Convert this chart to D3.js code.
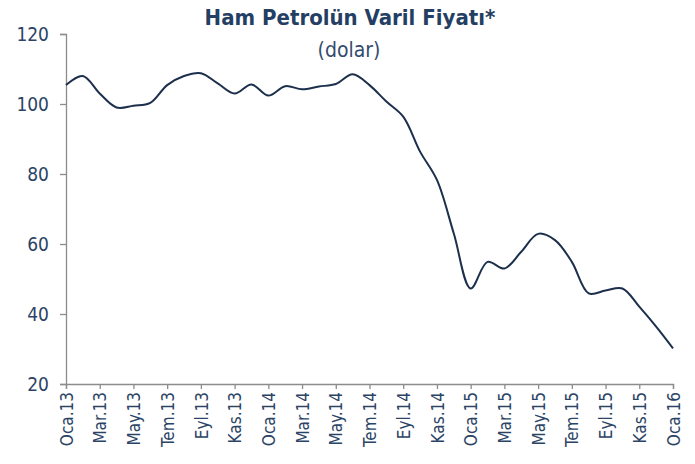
<!DOCTYPE html>
<html>
<head>
<meta charset="utf-8">
<script src="https://cdn.jsdelivr.net/npm/d3@7"></script>
<style>
  body { margin: 0; background: #fff; overflow: hidden; }
  text { font-family: "DejaVu Sans Condensed", "DejaVu Sans", sans-serif; }
</style>
</head>
<body>
<div id="chart"></div>
<script>
// Monthly crude oil price (USD/barrel), Jan 2013 - Jan 2016
const months = ["Oca", "Şub", "Mar", "Nis", "May", "Haz", "Tem", "Ağu", "Eyl", "Eki", "Kas", "Ara"];
const years = [13, 14, 15, 16];
const prices = [
    105.4, 108.0, 103.0, 99.0, 99.5, 100.3, 105.4, 108.0, 108.8, 105.9, 103.0, 105.6,
    102.4, 105.1, 104.2, 105.0, 105.7, 108.5, 105.4, 100.7, 96.4, 86.4, 78.3, 63.0,
    47.3, 54.9, 53.0, 57.8, 62.9, 61.1, 54.9, 45.9, 46.7, 47.3, 42.1, 36.4,
    30.2
];
const yTicks = [20, 40, 60, 80, 100, 120];

// build "Oca.13" style labels for each month
const labels = prices.map((p, i) => months[i % 12] + "." + years[Math.floor(i / 12)]);
const data = prices.map((p, i) => ({label: labels[i], value: p}));

const width = 695;
const height = 464;
const margin = {top: 34, right: 22, bottom: 80, left: 66};
const innerWidth = width - margin.left - margin.right;
const innerHeight = height - margin.top - margin.bottom;

const labelColor = "#2b4466";

const svg = d3.select("#chart")
    .append("svg")
    .attr("width", width)
    .attr("height", height)
    .style("display", "block");

const chart = svg.append("g")
    .attr("transform", `translate(${margin.left}, ${margin.top})`);

const xScale = d3.scalePoint()
    .domain(labels)
    .range([0, innerWidth]);

const yScale = d3.scaleLinear()
    .domain([20, 120])
    .range([innerHeight, 0]);

// Y axis
const yAxis = chart.append("g")
    .call(d3.axisLeft(yScale).tickValues(yTicks).tickSize(6).tickPadding(11));
yAxis.selectAll("path, line").attr("stroke", "#8c8c8c").attr("stroke-width", 1.3);
yAxis.selectAll("text")
    .style("font-size", "19px")
    .style("fill", labelColor);

// X axis, labels every second month
const xAxis = chart.append("g")
    .attr("transform", `translate(0, ${innerHeight})`)
    .call(d3.axisBottom(xScale)
        .tickValues(labels.filter((d, i) => i % 2 === 0))
        .tickSizeOuter(0)
        .tickSize(5));
xAxis.selectAll("path, line").attr("stroke", "#8c8c8c").attr("stroke-width", 1.3);
xAxis.selectAll("text")
    .attr("transform", "rotate(-90)")
    .attr("x", -8)
    .attr("y", 0)
    .attr("dy", "0.36em")
    .attr("text-anchor", "end")
    .style("font-size", "17px")
    .style("fill", labelColor);

// smoothed price line
const line = d3.line()
    .x(d => xScale(d.label))
    .y(d => yScale(d.value))
    .curve(d3.curveCatmullRom.alpha(0.5));

chart.append("path")
    .datum(data)
    .attr("fill", "none")
    .attr("stroke", "#1c2f4c")
    .attr("stroke-width", 2)
    .attr("d", line);

// title
svg.append("text")
    .attr("x", 350)
    .attr("y", 25)
    .attr("text-anchor", "middle")
    .style("font-size", "22px")
    .style("font-weight", "bold")
    .style("fill", "#243f63")
    .text("Ham Petrolün Varil Fiyatı*");

svg.append("text")
    .attr("x", 349)
    .attr("y", 57)
    .attr("text-anchor", "middle")
    .style("font-size", "21px")
    .style("fill", "#344c6e")
    .text("(dolar)");
</script>
</body>
</html>
